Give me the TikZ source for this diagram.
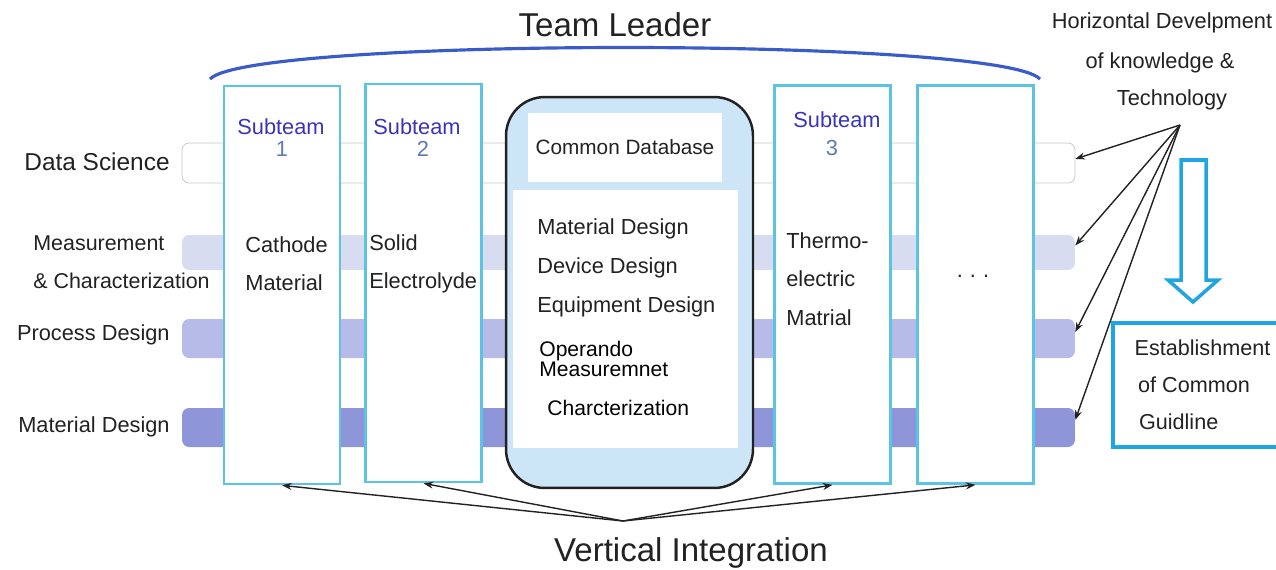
\documentclass[tikz,border=0pt]{standalone}
\usepackage{fontspec}
\setmainfont{Liberation Sans}
\usetikzlibrary{arrows.meta,positioning}
\definecolor{cSub}{HTML}{5BC4E6}
\definecolor{cArc}{HTML}{3A5CC8}
\definecolor{cTxt}{HTML}{3B34B8}
\definecolor{cNum}{HTML}{5B7BB4}
\definecolor{cBa}{HTML}{FFFFFF}
\definecolor{cBb}{HTML}{D8DCF1}
\definecolor{cBc}{HTML}{B6BCE7}
\definecolor{cBd}{HTML}{8E96D9}
\definecolor{cDB}{HTML}{CCE6F8}
\definecolor{cBlue}{HTML}{1FA6E0}
\definecolor{cInk}{HTML}{222222}
\tikzset{
  >={Stealth[length=5.5pt,width=4pt]},
  band/.style={rounded corners=4pt,minimum width=17.86cm,inner sep=0pt},
  sbox/.style={draw=cSub,line width=1.6pt,fill=white,minimum width=2.32cm,minimum height=7.96cm,inner sep=0pt},
  dbox/.style={draw=cInk,line width=1.4pt,fill=cDB,rounded corners=22pt,minimum width=4.94cm,minimum height=7.82cm,inner sep=0pt},
  wbox/.style={fill=white,inner sep=0pt},
  gbox/.style={draw=cBlue,line width=1.8pt,minimum width=3.7cm,minimum height=2.48cm,inner sep=0pt},
  lbl/.style={font=\fontsize{12.4}{21.8}\selectfont,text=cInk,inner sep=0pt,align=left},
  big/.style={font=\fontsize{18.8}{22}\selectfont,text=cInk,inner sep=0pt},
  stt/.style={font=\fontsize{12.4}{15}\selectfont,text=cTxt,inner sep=0pt},
  num/.style={font=\fontsize{12.4}{15}\selectfont,text=cNum,inner sep=0pt},
  ar/.style={->,cInk,line width=0.8pt},
}
\begin{document}
\begin{tikzpicture}[x=0.02cm,y=-0.02cm]
\useasboundingbox (0,0) rectangle (1276,569);
\node[big] (tl) at (615,25) {Team Leader};
\draw[cArc,line width=1.8pt] (210,79) .. controls (250,37) and (1000,37) .. (1040,79);
\node[band,draw=gray!45,fill=cBa,minimum height=0.8cm] (bDS) at (628.5,163) {};
\node[band,fill=cBb,minimum height=0.7cm] (bMC) at (628.5,252.5) {};
\node[band,fill=cBc,minimum height=0.78cm] (bPD) at (628.5,338.5) {};
\node[band,fill=cBd,minimum height=0.78cm] (bMD) at (628.5,427.5) {};
\node[lbl,font=\fontsize{13.9}{16}\selectfont,anchor=east] (lDS) at (170,162) {Data Science};
\node[lbl,font=\fontsize{12.2}{21.8}\selectfont,anchor=west] (lMC) at (33,262.5) {Measurement\\\& Characterization};
\node[lbl,anchor=east] (lPD) at (170,335) {Process Design};
\node[lbl,anchor=east] (lMD) at (170,427) {Material Design};
\node[sbox] (s1) at (282,285) {};
\node[sbox] (s2) at (423.5,283) {};
\node[sbox] (s3) at (832.5,284.5) {};
\node[sbox] (s4) at (975.5,284.5) {};
\node[stt] (t1) at (281,127) {Subteam};
\node[num] (n1) at (282,149) {1};
\node[stt] (t2) at (417,127) {Subteam};
\node[num] (n2) at (423,149) {2};
\node[stt] (t3) at (837,120) {Subteam};
\node[num] (n3) at (832,148) {3};
\node[lbl,anchor=west] (c1) at (245,264) {Cathode\\Material};
\node[lbl,anchor=west] (c2) at (369,264) {Solid\\Electrolyde};
\node[lbl,anchor=west] (c3) at (786,279) {Thermo-\\electric\\Matrial};
\node[lbl] (c4) at (973,276) {.\hspace{4pt}.\hspace{4pt}.};
\node[dbox] (db) at (629.5,292.5) {};
\node[wbox,minimum width=3.88cm,minimum height=1.38cm,font=\fontsize{11.8}{14}\selectfont,text=cInk] (dbt) at (625,147.5) {Common Database};
\node[wbox,minimum width=4.5cm,minimum height=5.16cm] (dbl) at (625.5,319) {};
\node[lbl,font=\fontsize{12.4}{22.4}\selectfont,anchor=west] (d1) at (537,268) {Material Design\\Device Design\\Equipment Design};
\node[lbl,font=\fontsize{12}{10.2}\selectfont,text=black,anchor=west] (d2) at (539,359) {Operando\\Measuremnet};
\node[lbl,font=\fontsize{12}{14}\selectfont,text=black,anchor=west] (d3) at (547,408) {Charcterization};
\node[lbl] (h1) at (1162,23) {Horizontal Develpment};
\node[lbl] (h2) at (1160,63) {of knowledge \&};
\node[lbl] (h3) at (1172,100) {Technology};
\coordinate (hub) at (1180,125);
\draw[ar] (hub) -- ([yshift=2.3pt]bDS.east);
\draw[ar] (hub) -- ([yshift=4pt]bMC.east);
\draw[ar] (hub) -- ([yshift=3.7pt]bPD.east);
\draw[ar] (hub) -- ([yshift=4.3pt]bMD.east);
\draw[cBlue,line width=2pt,line join=miter] (1181,160) -- (1206,160) -- (1206,280) -- (1218,280)
  -- (1193,302) -- (1168,280) -- (1181,280) -- cycle;
\node[gbox] (eg) at (1205.5,385) {};
\node[lbl,font=\fontsize{12.3}{21}\selectfont,anchor=west] (egt) at ([xshift=13pt]eg.west) {Establishment\\\hspace{2pt}of Common\\\hspace{2.5pt}Guidline};
\coordinate (vo) at (623,521);
\draw[ar] (vo) -- (s1.south);
\draw[ar] (vo) -- (s2.south);
\draw[ar] (vo) -- (s3.south);
\draw[ar] (vo) -- (s4.south);
\node[big] (vi) at (691,553) {Vertical Integration};
\end{tikzpicture}
\end{document}
